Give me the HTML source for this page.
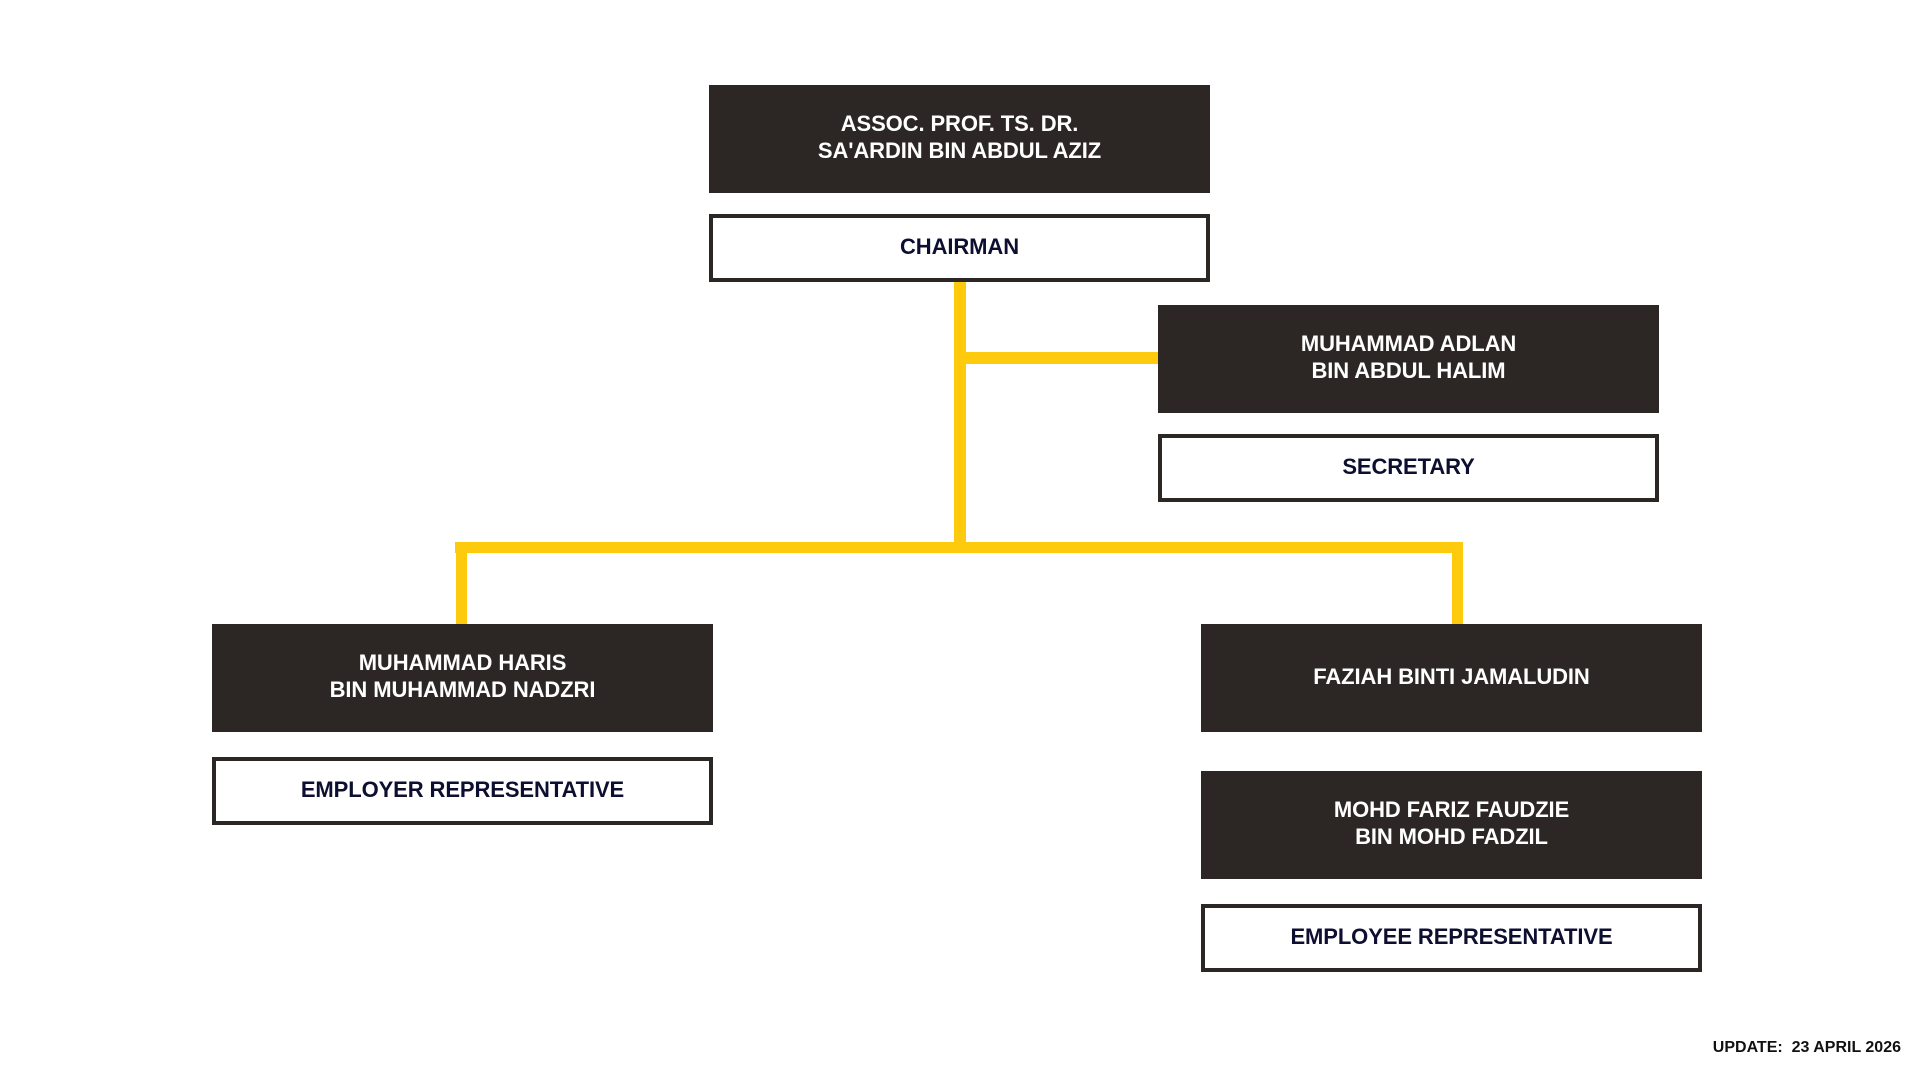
<!DOCTYPE html>
<html><head><meta charset="utf-8"><style>
body{margin:0;width:1920px;height:1080px;background:#fff;position:relative;overflow:hidden;font-family:"Liberation Sans",sans-serif;font-weight:bold}
.d{position:absolute;background:#2c2724;color:#fff;display:flex;align-items:center;justify-content:center;text-align:center;font-size:22px;line-height:27px;letter-spacing:-0.1px;padding-bottom:4px;box-sizing:border-box}
.w{position:absolute;background:#fff;border:4px solid #2c2724;box-sizing:border-box;color:#0d0f30;display:flex;align-items:center;justify-content:center;font-size:22px;letter-spacing:-0.1px;padding-bottom:3px}
.y{position:absolute;background:#fdca0e}
</style></head><body>
<div class="y" style="left:954px;top:282px;width:12px;height:271px"></div>
<div class="y" style="left:954px;top:352px;width:206px;height:12px"></div>
<div class="y" style="left:455px;top:542px;width:1008px;height:11px"></div>
<div class="y" style="left:456px;top:542px;width:11px;height:84px"></div>
<div class="y" style="left:1452px;top:542px;width:11px;height:84px"></div>

<div class="d" style="left:709px;top:85px;width:501px;height:108px">ASSOC. PROF. TS. DR.<br>SA'ARDIN BIN ABDUL AZIZ</div>
<div class="w" style="left:709px;top:214px;width:501px;height:68px">CHAIRMAN</div>

<div class="d" style="left:1158px;top:305px;width:501px;height:108px">MUHAMMAD ADLAN<br>BIN ABDUL HALIM</div>
<div class="w" style="left:1158px;top:434px;width:501px;height:68px">SECRETARY</div>

<div class="d" style="left:212px;top:624px;width:501px;height:108px">MUHAMMAD HARIS<br>BIN MUHAMMAD NADZRI</div>
<div class="w" style="left:212px;top:757px;width:501px;height:68px">EMPLOYER REPRESENTATIVE</div>

<div class="d" style="left:1201px;top:624px;width:501px;height:108px">FAZIAH BINTI JAMALUDIN</div>
<div class="d" style="left:1201px;top:771px;width:501px;height:108px">MOHD FARIZ FAUDZIE<br>BIN MOHD FADZIL</div>
<div class="w" style="left:1201px;top:904px;width:501px;height:68px">EMPLOYEE REPRESENTATIVE</div>

<div style="position:absolute;left:1700px;top:1039px;width:201px;text-align:right;font-size:16px;color:#111;white-space:pre">UPDATE:  23 APRIL 2026</div>
</body></html>
